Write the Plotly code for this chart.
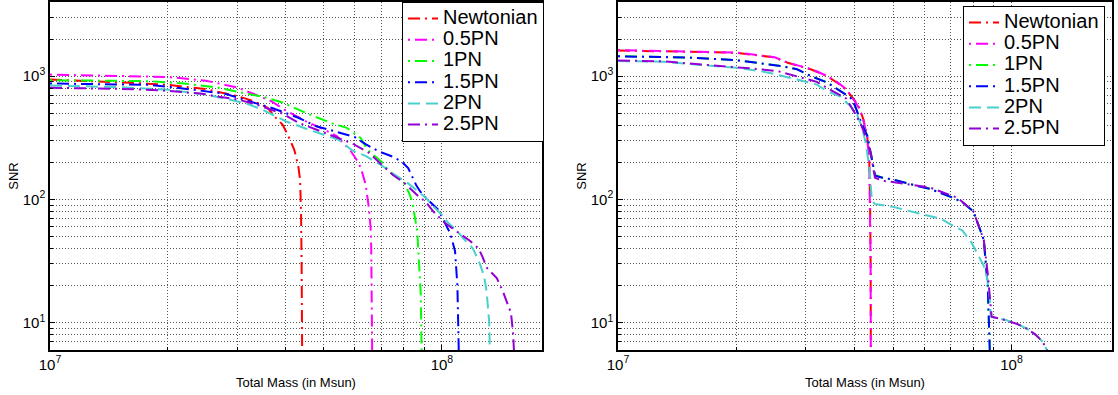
import numpy as np
import plotly.graph_objects as go

# ---------------- data (mass in units of 1e7 Msun, SNR) ----------------
series_names = ["Newtonian", "0.5PN", "1PN", "1.5PN", "2PN", "2.5PN"]

# Left panel
L_newt_m = [1.0, 1.3, 1.6, 2.0, 2.5, 3.0, 3.3, 3.59, 3.77, 3.92, 4.04, 4.20, 4.30, 4.345, 4.37, 4.385, 4.40]
L_newt_s = [940, 915, 885, 850, 785, 690, 630, 553, 459, 405, 336, 253, 186, 145, 80, 30, 5]

L_05pn_m = [1.0, 1.5, 2.0, 2.5, 3.0, 3.3, 3.67, 3.96, 4.5, 5.0, 5.4, 5.86, 6.09, 6.21, 6.39, 6.52, 6.58, 6.60, 6.62, 6.64]
L_05pn_s = [1030, 1010, 985, 920, 810, 720, 626, 536, 430, 370, 325, 246, 204, 180, 132, 82, 57, 41, 20, 5]

L_1pn_m = [1.0, 1.5, 1.8, 2.2, 2.7, 3.1, 3.5, 3.9, 4.6, 5.35, 5.7, 6.2, 6.45, 7.1, 7.3, 8.0, 8.24, 8.4, 8.65, 8.83, 8.88]
L_1pn_s = [928, 920, 911, 873, 805, 733, 680, 615, 488, 405, 383, 316, 254, 195, 170, 136, 113, 96, 55, 17, 5]

L_15pn_m = [1.0, 1.5, 1.8, 2.3, 2.8, 3.2, 3.7, 4.3, 4.8, 5.2, 6.0, 6.4, 6.9, 7.5, 7.9, 8.2, 8.6, 8.8, 9.1, 9.8, 10.5, 10.8, 10.95, 11.05]
L_15pn_s = [872, 860, 850, 780, 720, 630, 550, 460, 390, 365, 320, 280, 245, 222, 202, 180, 130, 116, 103, 82, 53, 38, 20, 5]

L_2pn_m = [1.0, 1.5, 2.0, 2.5, 2.9, 3.2, 3.5, 4.0, 4.5, 5.0, 5.45, 5.9, 6.4, 7.0, 7.5, 8.2, 8.6, 9.1, 9.5, 10.0, 10.4, 10.9, 11.5, 12.0, 12.5, 12.8, 13.0, 13.2, 13.27]
L_2pn_s = [840, 815, 775, 710, 640, 595, 530, 430, 375, 335, 305, 250, 225, 190, 162, 135, 120, 103, 88, 75, 64, 56, 46, 40, 30, 24, 18, 10, 5]

L_25pn_m = [1.0, 1.5, 1.9, 2.2, 2.45, 2.7, 3.0, 3.3, 3.9, 4.3, 5.0, 5.4, 5.9, 6.5, 7.0, 7.5, 8.0, 8.6, 9.1, 9.5, 10.2, 11.0, 11.8, 12.4, 12.7, 13.0, 13.8, 14.3, 14.6, 15.0, 15.2, 15.3]
L_25pn_s = [805, 790, 770, 740, 720, 680, 650, 600, 500, 420, 350, 320, 285, 240, 195, 158, 137, 110, 95, 80, 64, 54, 46, 40, 34, 28, 23, 18, 15, 12, 8, 5]

# Right panel
R_newt_m = [1.0, 1.5, 2.0, 2.5, 2.7, 3.1, 3.4, 3.65, 3.8, 4.0, 4.1, 4.2, 4.3, 4.35, 4.37, 4.385, 4.39]
R_newt_s = [1618, 1590, 1550, 1420, 1285, 1134, 1000, 860, 780, 630, 555, 450, 320, 200, 100, 30, 5]

R_05pn_m = [1.0, 1.5, 2.0, 2.5, 2.7, 3.1, 3.4, 3.65, 3.8, 4.0, 4.1, 4.2, 4.3, 4.35, 4.37, 4.385, 4.39]
R_05pn_s = [1625, 1595, 1555, 1425, 1290, 1140, 1005, 870, 785, 625, 550, 445, 318, 198, 98, 30, 5]

R_1pn_m = [1.0, 1.5, 2.0, 2.3, 2.6, 2.85, 3.1, 3.4, 3.66, 3.9, 4.0, 4.15, 4.3, 4.38, 4.45, 4.5, 4.7, 5.0, 5.8, 6.2, 7.1, 7.5, 8.0, 8.5, 8.7, 8.8, 8.82]
R_1pn_s = [1454, 1420, 1350, 1280, 1210, 1140, 1000, 890, 760, 670, 580, 420, 330, 250, 190, 158, 150, 145, 128, 122, 103, 95, 80, 47, 20, 8, 5]

R_15pn_m = [1.0, 1.5, 2.0, 2.3, 2.6, 2.85, 3.1, 3.4, 3.66, 3.9, 4.0, 4.15, 4.3, 4.38, 4.45, 4.5, 4.7, 5.0, 5.8, 6.2, 7.1, 7.5, 8.0, 8.5, 8.7, 8.8, 8.82]
R_15pn_s = [1450, 1418, 1348, 1278, 1208, 1138, 998, 888, 758, 668, 578, 418, 328, 248, 188, 156, 150, 145, 128, 122, 103, 95, 80, 47, 20, 8, 5]

R_2pn_m = [1.0, 1.3, 1.6, 2.0, 2.3, 2.47, 2.85, 3.2, 3.4, 3.66, 3.9, 4.05, 4.15, 4.25, 4.35, 4.42, 4.5, 5.0, 6.0, 6.6, 7.05, 7.5, 7.9, 8.2, 8.5, 8.65, 8.8, 8.85, 8.9, 9.6, 10.3, 10.9, 11.5, 12.0, 12.3, 12.4]
R_2pn_s = [1330, 1310, 1240, 1170, 1100, 1050, 940, 855, 755, 688, 570, 488, 400, 300, 185, 96, 92, 87, 75, 70, 62, 56, 45, 36, 29, 24, 16, 11.5, 11.1, 10.6, 9.8, 9.0, 8.0, 7.0, 6.0, 5]

R_25pn_m = [1.0, 1.3, 1.6, 2.0, 2.3, 2.57, 2.85, 3.2, 3.45, 3.8, 4.0, 4.15, 4.3, 4.4, 4.45, 4.5, 4.7, 5.0, 5.8, 6.2, 6.8, 7.3, 8.0, 8.5, 8.7, 8.85, 8.9, 9.5, 10.3, 10.9, 11.5, 12.0, 12.3, 12.4]
R_25pn_s = [1340, 1320, 1250, 1190, 1140, 1090, 1000, 900, 780, 660, 500, 400, 300, 230, 180, 150, 142, 138, 130, 125, 112, 103, 80, 47, 25, 12, 11.2, 10.6, 9.8, 9.0, 8.0, 7.0, 6.0, 5]

x_decades = [7, 8]
y_decades = [0, 1, 2, 3]
x_max = 1.8e8
y_min, y_max = 6, 4000

# ---------------- styling ----------------
colors = ["#ff0000", "#ff00ff", "#00ff00", "#0000ff", "#48d1cc", "#9400d3"]
dashes = ["12px,5px,2px,5px", "2px,5px,12px,5px", "2px,5px,12px,5px",
          "2px,5px,12px,5px", "12px,6px", "12px,5px,2px,5px"]
FONT = "Liberation Sans, Arial, Helvetica, sans-serif"

left = [(L_newt_m, L_newt_s), (L_05pn_m, L_05pn_s), (L_1pn_m, L_1pn_s),
        (L_15pn_m, L_15pn_s), (L_2pn_m, L_2pn_s), (L_25pn_m, L_25pn_s)]
right = [(R_newt_m, R_newt_s), (R_05pn_m, R_05pn_s), (R_1pn_m, R_1pn_s),
         (R_15pn_m, R_15pn_s), (R_2pn_m, R_2pn_s), (R_25pn_m, R_25pn_s)]

fig = go.Figure()
for panel, (xa, ya, lg) in zip([left, right], [("x", "y", "legend"), ("x2", "y2", "legend2")]):
    for i, (m, s) in enumerate(panel):
        fig.add_trace(go.Scatter(
            x=np.array(m) * 1e7, y=s, mode="lines",
            name=f'<span style="font-size:20px">{series_names[i]}</span>',
            line=dict(color=colors[i], width=2, dash=dashes[i]),
            xaxis=xa, yaxis=ya, legend=lg))

xt_major = [10 ** e for e in x_decades]
xt_text = [f"10<sup>{e}</sup>" for e in x_decades]
xt_minor = [k * 10 ** e for e in x_decades for k in range(2, 10) if k * 10 ** e <= x_max]
yt_major = [10 ** e for e in y_decades if y_min <= 10 ** e <= y_max]
yt_text = [f"10<sup>{e}</sup>" for e in y_decades if y_min <= 10 ** e <= y_max]
yt_minor = [k * 10 ** e for e in y_decades for k in range(2, 10) if y_min <= k * 10 ** e <= y_max]

W, H = 1118, 395
GRID = dict(gridcolor="#555555", gridwidth=1, griddash="1px,2px")
common = dict(showgrid=True, **GRID,
              showline=True, linecolor="black", linewidth=1.5, mirror=True,
              ticks="inside", ticklen=5, tickcolor="black", zeroline=False,
              automargin=False, tickfont=dict(family=FONT, size=15, color="black"))

xcommon = dict(common, type="log", range=[7, np.log10(x_max)], tickmode="array",
               tickvals=xt_major, ticktext=xt_text,
               minor=dict(tickmode="array", tickvals=xt_minor, showgrid=True, ticks="inside",
                          ticklen=3, tickcolor="black", **GRID),
               title=dict(text="Total Mass (in Msun)", font=dict(family=FONT, size=13, color="black"), standoff=6))
ycommon = dict(common, type="log", range=[np.log10(y_min), np.log10(y_max)], tickmode="array",
               tickvals=yt_major, ticktext=yt_text,
               minor=dict(tickmode="array", tickvals=yt_minor, showgrid=True, ticks="inside",
                          ticklen=3, tickcolor="black", **GRID),
               title=dict(text="SNR", font=dict(family=FONT, size=13, color="black"), standoff=1))

ydom = [1 - 350 / H, 1 - 2 / H]
legend_common = dict(bgcolor="white", bordercolor="black", borderwidth=1,
                     font=dict(family=FONT, size=14, color="black"), tracegroupgap=0, itemwidth=30)
fig.update_layout(
    width=W, height=H, margin=dict(l=0, r=0, t=0, b=0),
    paper_bgcolor="white", plot_bgcolor="white",
    xaxis=dict(xcommon, domain=[50 / W, 542 / W], anchor="y"),
    yaxis=dict(ycommon, domain=ydom, anchor="x"),
    xaxis2=dict(xcommon, domain=[618 / W, 1112 / W], anchor="y2"),
    yaxis2=dict(ycommon, domain=ydom, anchor="x2"),
    legend=dict(legend_common, x=544 / W, xanchor="right", y=1 - 2 / H, yanchor="top"),
    legend2=dict(legend_common, x=1105 / W, xanchor="right", y=1 - 6 / H, yanchor="top"),
    showlegend=True,
)

fig.write_html("out.html")
